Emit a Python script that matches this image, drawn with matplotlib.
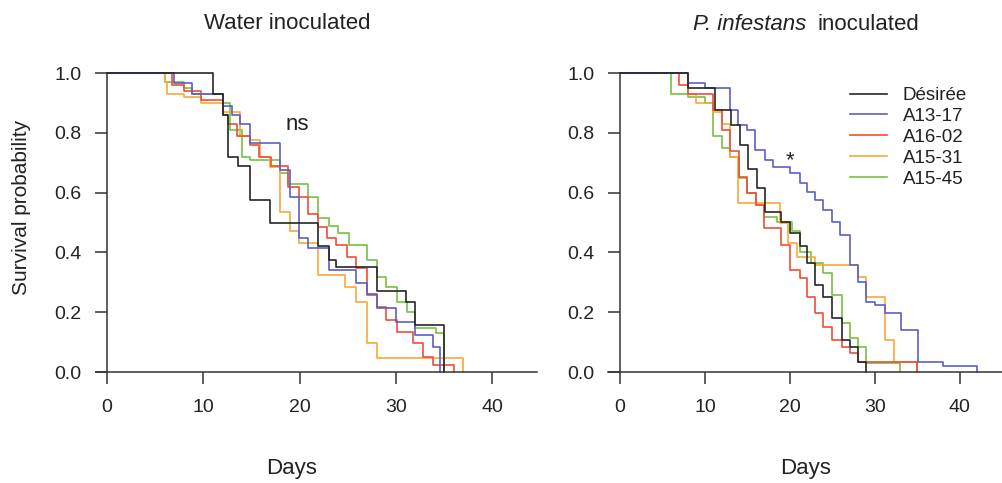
import matplotlib
matplotlib.use("Agg")
import matplotlib.pyplot as plt

plt.rcParams['font.family'] = ['Liberation Sans', 'DejaVu Sans']

strains = ["Désirée", "A13-17", "A16-02", "A15-31", "A15-45"]
colors = ["#262626", "#5b5fc7", "#f04e37", "#f9a93a", "#78c043"]

# water inoculated: event days and survival after each step
water_desiree_t = [0, 11, 12, 12.6, 13.6, 14.8, 16.9, 21.9, 23, 23.8, 28, 31, 32, 35]
water_desiree_s = [1.0, 0.93, 0.86, 0.72, 0.69, 0.575, 0.50, 0.42, 0.375, 0.35, 0.27, 0.235, 0.157, 0.0]
water_a1317_t = [0, 6.9, 8.8, 12, 13, 13.8, 14.8, 18, 19, 19.9, 20.9, 23, 25.9, 27, 28, 30, 32, 33.9, 34.6]
water_a1317_s = [1.0, 0.965, 0.93, 0.89, 0.86, 0.83, 0.765, 0.675, 0.586, 0.448, 0.415, 0.34, 0.297, 0.26, 0.213, 0.168, 0.125, 0.085, 0.0]
water_a1602_t = [0, 6.7, 8, 9.8, 12, 12.6, 13.5, 14.8, 15.8, 17, 18.8, 19.9, 20.9, 21.9, 22.8, 23.8, 24.9, 25.9,
                 27, 28, 29, 30.1, 31.8, 32.8, 33.9, 36]
water_a1602_s = [1.0, 0.96, 0.94, 0.91, 0.86, 0.83, 0.79, 0.76, 0.72, 0.69, 0.62, 0.586, 0.53, 0.486, 0.447, 0.425,
                 0.386, 0.347, 0.258, 0.218, 0.174, 0.135, 0.096, 0.051, 0.023, 0.0]
water_a1531_t = [0, 6, 6.2, 8, 9.8, 12, 13.8, 14.8, 15.9, 16.9, 18, 19, 19.9, 21.9, 24.7, 25.9, 27, 28, 37]
water_a1531_s = [1.0, 0.97, 0.93, 0.92, 0.90, 0.87, 0.79, 0.775, 0.72, 0.687, 0.536, 0.47, 0.43, 0.324, 0.285, 0.235,
                 0.096, 0.046, 0.0]
water_a1545_t = [0, 6, 8, 8.8, 12, 12.8, 14, 14.8, 18, 18.8, 20.9, 21.9, 23, 24, 25.1, 27, 28, 29, 30.1, 31.1, 32,
                 34.2, 35]
water_a1545_s = [1.0, 0.97, 0.95, 0.93, 0.9, 0.81, 0.72, 0.709, 0.664, 0.63, 0.586, 0.514, 0.49, 0.464, 0.425, 0.375,
                 0.319, 0.285, 0.235, 0.2, 0.146, 0.13, 0.0]

# P. infestans inoculated
pi_desiree_t = [0, 8, 11.2, 13.1, 14.1, 15.1, 16.1, 17.1, 19, 20, 21.2, 22, 22.9, 23.9, 24.9, 26.1, 27.1, 28, 29]
pi_desiree_s = [1.0, 0.95, 0.876, 0.826, 0.76, 0.68, 0.614, 0.536, 0.503, 0.464, 0.42, 0.363, 0.291, 0.252, 0.18,
                0.107, 0.085, 0.034, 0.0]
pi_a1317_t = [0, 8, 10, 12.9, 13.9, 14.9, 15.9, 17.1, 18, 20, 21.2, 22, 22.9, 23.9, 24.9, 25.9, 27.1, 28, 29, 30,
              31.2, 33.1, 35.1, 38, 42]
pi_a1317_s = [1.0, 0.965, 0.949, 0.876, 0.826, 0.81, 0.742, 0.709, 0.687, 0.664, 0.631, 0.603, 0.575, 0.542, 0.503,
              0.458, 0.358, 0.302, 0.235, 0.224, 0.196, 0.14, 0.034, 0.02, 0.0]
pi_a1602_t = [0, 7, 8, 11, 12, 13, 14, 15, 16, 16.9, 19, 20, 21.2, 22, 22.9, 23.9, 24.9, 26.1, 27.1, 28, 35]
pi_a1602_s = [1.0, 0.96, 0.93, 0.876, 0.81, 0.74, 0.653, 0.6, 0.558, 0.48, 0.425, 0.34, 0.313, 0.252, 0.196, 0.15,
              0.107, 0.085, 0.063, 0.034, 0.0]
pi_a1531_t = [0, 8, 9, 11, 12, 13, 13.9, 18.8, 19.8, 20.8, 22.9, 28, 29, 31.2, 32.2, 35]
pi_a1531_s = [1.0, 0.93, 0.9, 0.87, 0.83, 0.72, 0.564, 0.5, 0.43, 0.386, 0.358, 0.319, 0.252, 0.107, 0.034, 0.0]
pi_a1545_t = [0, 6, 8, 10, 11, 12, 13, 14, 15, 16, 17, 18.5, 20.2, 21.2, 22.5, 23.9, 24.9, 26.1, 27.1, 28, 29, 33]
pi_a1545_s = [1.0, 0.93, 0.92, 0.9, 0.79, 0.75, 0.72, 0.65, 0.6, 0.56, 0.52, 0.503, 0.47, 0.40, 0.363, 0.33, 0.258,
              0.163, 0.113, 0.085, 0.03, 0.0]

water = [(water_desiree_t, water_desiree_s), (water_a1317_t, water_a1317_s), (water_a1602_t, water_a1602_s),
         (water_a1531_t, water_a1531_s), (water_a1545_t, water_a1545_s)]
infest = [(pi_desiree_t, pi_desiree_s), (pi_a1317_t, pi_a1317_s), (pi_a1602_t, pi_a1602_s),
          (pi_a1531_t, pi_a1531_s), (pi_a1545_t, pi_a1545_s)]

W, H = 1003, 483
fig = plt.figure(figsize=(W / 100, H / 100), dpi=100)
ybot = (H - 375) / H
yh = 1.02 * 299 / H
ax1 = fig.add_axes([96 / W, ybot, 441 / W, yh])
ax2 = fig.add_axes([608 / W, ybot, 394.4 / W, yh])

# draw green first so black sits on top like the original
order = [4, 3, 2, 1, 0]
for ax, data, xl in [(ax1, water, (-1.15, 44.65)), (ax2, infest, (-1.4, 45))]:
    for i in order:
        t, s = data[i]
        ax.step(t, s, where='post', color=colors[i], lw=1.2, clip_on=False, label=strains[i])
    ax.set_xlim(*xl)
    ax.set_ylim(-0.01, 1.01)
    for side in ['top', 'right']:
        ax.spines[side].set_visible(False)
    ax.spines['left'].set_position(('data', 0))
    ax.spines['left'].set_bounds(0, 1)
    ax.spines['bottom'].set_position(('data', 0))
    for side in ['left', 'bottom']:
        ax.spines[side].set_linewidth(1.1)
        ax.spines[side].set_color('#333333')
    ax.set_xticks([0, 10, 20, 30, 40])
    ax.set_yticks([0, 0.2, 0.4, 0.6, 0.8, 1.0])
    ax.set_yticklabels(["%.1f" % v for v in [0, 0.2, 0.4, 0.6, 0.8, 1.0]])
    ax.tick_params(axis='x', length=8.5, width=1.1, pad=11, labelsize=14, colors='#333333', labelcolor='#222222')
    ax.tick_params(axis='y', length=8.5, width=1.1, pad=10, labelsize=14, colors='#333333', labelcolor='#222222')
    ax.patch.set_alpha(0)

ax1.text(19.8, 0.81, "ns", fontsize=16, ha='center', va='baseline', color='#222222')
ax2.text(20, 0.69, "*", fontsize=16, ha='center', va='baseline', color='#222222')

fig.text(287.5 / W, 1 - 29 / H, "Water inoculated", fontsize=16, ha='center', va='baseline', color='#222222')
fig.text(806 / W, 1 - 30 / H, "P. infestans", fontsize=16, style='italic', ha='right', va='baseline', color='#222222')
fig.text(818 / W, 1 - 30 / H, "inoculated", fontsize=16, ha='left', va='baseline', color='#222222')
fig.text(291.5 / W, 1 - 474 / H, "Days", fontsize=16, ha='center', va='baseline', color='#222222')
fig.text(806 / W, 1 - 474 / H, "Days", fontsize=16, ha='center', va='baseline', color='#222222')
fig.text(22 / W, 1 - 207.5 / H, "Survival probability", fontsize=15, rotation=90, ha='center', va='center',
         color='#222222')

handles, labels = ax2.get_legend_handles_labels()
handles, labels = handles[::-1], labels[::-1]
leg = ax2.legend(handles, labels, loc='upper left', bbox_to_anchor=(850 / W, 1 - 87 / H),
                 bbox_transform=fig.transFigure, frameon=False, fontsize=13.5, handlelength=2.0,
                 handletextpad=0.8, labelspacing=0.2, borderpad=0, borderaxespad=0)
for txt in leg.get_texts():
    txt.set_color('#222222')

fig.savefig("out.png", dpi=100)
